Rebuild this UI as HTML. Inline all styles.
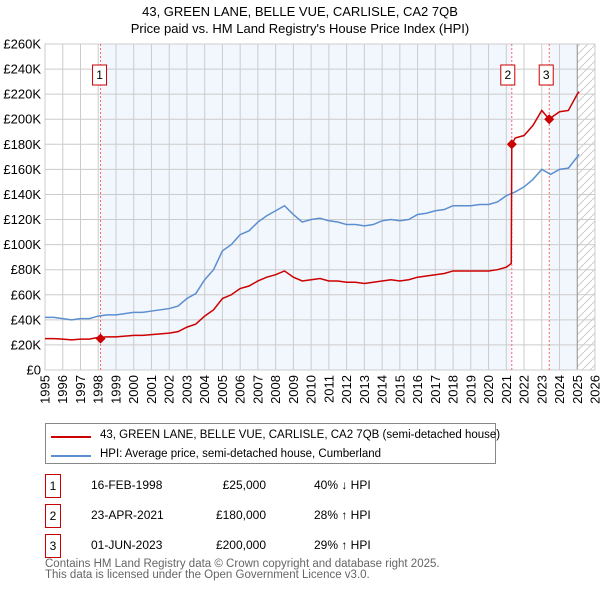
<!DOCTYPE html>
<html><head><meta charset="utf-8"><style>
body{margin:0;background:#fff;font-family:"Liberation Sans","DejaVu Sans",sans-serif;}
#wrap{position:relative;width:600px;height:590px;overflow:hidden;}
.t{position:absolute;font-size:12px;color:#000;white-space:nowrap;}
.box{position:absolute;border:1px solid #c00;width:14px;height:22px;text-align:center;line-height:22px;font-size:12px;}
</style></head><body><div id="wrap">
<div class="t" style="left:0;width:600px;text-align:center;top:4px;font-size:13px">43, GREEN LANE, BELLE VUE, CARLISLE, CA2 7QB</div>
<div class="t" style="left:0;width:600px;text-align:center;top:21px;font-size:13px">Price paid vs. HM Land Registry's House Price Index (HPI)</div>
<svg id="svg" width="600" height="420" style="position:absolute;left:0;top:0"></svg>
<div style="position:absolute;left:45px;top:423px;width:449px;height:39px;border:1px solid #888;"></div>
<div style="position:absolute;left:51px;top:436px;width:40px;height:2px;background:#c00"></div>
<div class="t" style="left:100px;top:429px;font-size:11.5px">43, GREEN LANE, BELLE VUE, CARLISLE, CA2 7QB (semi-detached house)</div>
<div style="position:absolute;left:51px;top:455px;width:40px;height:2px;background:#5b8fd0"></div>
<div class="t" style="left:100px;top:448px;font-size:11.5px">HPI: Average price, semi-detached house, Cumberland</div>
<div class="box" style="left:45px;top:474px">1</div>
<div class="t" style="left:91px;top:478px">16-FEB-1998</div>
<div class="t" style="left:196px;width:70px;text-align:right;top:478px">£25,000</div>
<div class="t" style="left:314px;top:478px">40% ↓ HPI</div>
<div class="box" style="left:45px;top:504px">2</div>
<div class="t" style="left:91px;top:508px">23-APR-2021</div>
<div class="t" style="left:196px;width:70px;text-align:right;top:508px">£180,000</div>
<div class="t" style="left:314px;top:508px">28% ↑ HPI</div>
<div class="box" style="left:45px;top:534px">3</div>
<div class="t" style="left:91px;top:538px">01-JUN-2023</div>
<div class="t" style="left:196px;width:70px;text-align:right;top:538px">£200,000</div>
<div class="t" style="left:314px;top:538px">29% ↑ HPI</div>
<div class="t" style="left:45px;top:559px;color:#666;font-size:11.5px;line-height:11px">Contains HM Land Registry data © Crown copyright and database right 2025.<br>This data is licensed under the Open Government Licence v3.0.</div>
</div>
<script>
const years=[1995,1995.5,1996,1996.5,1997,1997.5,1998,1998.5,1999,1999.5,2000,2000.5,2001,2001.5,2002,2002.5,2003,2003.5,2004,2004.5,2005,2005.5,2006,2006.5,2007,2007.5,2008,2008.5,2009,2009.5,2010,2010.5,2011,2011.5,2012,2012.5,2013,2013.5,2014,2014.5,2015,2015.5,2016,2016.5,2017,2017.5,2018,2018.5,2019,2019.5,2020,2020.5,2021,2021.5,2022,2022.5,2023,2023.5,2024,2024.5,2025,2025.1];
const hpiValues=[42,42,41,40,41,41,43,44,44,45,46,46,47,48,49,51,57,61,72,80,95,100,108,111,118,123,127,131,124,118,120,121,119,118,116,116,115,116,119,120,119,120,124,125,127,128,131,131,131,132,132,134,139,142,146,152,160,156,160,161,170,172];
const redYears=[1995,1995.5,1996,1996.5,1997,1997.5,1998,1998.5,1999,1999.5,2000,2000.5,2001,2001.5,2002,2002.5,2003,2003.5,2004,2004.5,2005,2005.5,2006,2006.5,2007,2007.5,2008,2008.5,2009,2009.5,2010,2010.5,2011,2011.5,2012,2012.5,2013,2013.5,2014,2014.5,2015,2015.5,2016,2016.5,2017,2017.5,2018,2018.5,2019,2019.5,2020,2020.5,2021,2021.28,2021.31,2021.5,2022,2022.5,2023,2023.42,2023.5,2024,2024.5,2025,2025.1];
const redValues=[25,25,24.6,24,24.6,24.6,26,26.4,26.4,27,27.6,27.6,28.2,28.8,29.4,30.6,34.2,36.6,43,48,57,60,65,67,71,74,76,79,74,71,72,73,71,71,70,70,69,70,71,72,71,72,74,75,76,77,79,79,79,79,79,80,82,85,180,185,187,195,207,200,201,206,207,220,222];
const saleYears=[1998.13,2021.31,2023.42];
const salePrices=[25,180,200];
const saleLabels=["1","2","3"];
const yTicks=[0,20,40,60,80,100,120,140,160,180,200,220,240,260];
const xTicks=[1995,1996,1997,1998,1999,2000,2001,2002,2003,2004,2005,2006,2007,2008,2009,2010,2011,2012,2013,2014,2015,2016,2017,2018,2019,2020,2021,2022,2023,2024,2025,2026];
const L=45,R=595,T=44,B=370;
const xS=y=>L+(y-1995)/(2026-1995)*(R-L);
const yS=v=>B-v/260*(B-T);
const svg=document.getElementById('svg');const NS='http://www.w3.org/2000/svg';
function mk(tag,at){const e=document.createElementNS(NS,tag);for(const k in at)e.setAttribute(k,at[k]);svg.appendChild(e);return e;}
let e;
e=mk('rect',{x:xS(saleYears[0]),y:T,width:xS(saleYears[1])-xS(saleYears[0]),height:B-T,fill:'#f2f6fd'});


e=mk('rect',{x:xS(saleYears[2]),y:T,width:xS(2025)-xS(saleYears[2]),height:B-T,fill:'#f2f6fd'});


const defs=mk('defs',{});defs.innerHTML='<pattern id="h" width="8" height="8" patternUnits="userSpaceOnUse"><path d="M0 8L8 0" stroke="#ccc" stroke-width="1"/></pattern>';
e=mk('rect',{x:xS(2025),y:T,width:R-xS(2025),height:B-T,fill:'url(#h)'});


yTicks.forEach(v=>{e=mk('line',{x1:L,x2:R,y1:yS(v),y2:yS(v),stroke:'#ccc'});


e=mk('text',{x:L-4,y:yS(v)+4.5,'text-anchor':'end','font-size':13,'font-family':'Liberation Sans, sans-serif'});e.textContent=v===0?'£0':'£'+v+'K';

});
xTicks.forEach(y=>{e=mk('line',{x1:xS(y),x2:xS(y),y1:T,y2:B,stroke:'#ccc'});


e=mk('text',{transform:'translate('+(xS(y)+4.5)+','+(B+5)+') rotate(-90)','text-anchor':'end','font-size':13,'font-family':'Liberation Sans, sans-serif'});e.textContent=y;

});
e=mk('line',{x1:xS(2025),x2:xS(2025),y1:T,y2:B,stroke:'#999'});


e=mk('rect',{x:L,y:T,width:R-L,height:B-T,fill:'none',stroke:'#ccc'});


saleYears.forEach((y,i)=>{e=mk('line',{x1:xS(y),x2:xS(y),y1:T,y2:B,stroke:'#f66','stroke-dasharray':'2,2'});

});
e=mk('polyline',{points:years.map((y,i)=>xS(y)+','+yS(hpiValues[i])).join(' '),fill:'none',stroke:'#5b8fd0','stroke-width':1.5});


e=mk('polyline',{points:redYears.map((y,i)=>xS(y)+','+yS(redValues[i])).join(' '),fill:'none',stroke:'#c00','stroke-width':1.5});


saleYears.forEach((y,i)=>{const cx=xS(y),cy=yS(salePrices[i]);
e=mk('path',{d:`M${cx} ${cy-5}L${cx+5} ${cy}L${cx} ${cy+5}L${cx-5} ${cy}Z`,fill:'#c00'});


e=mk('rect',{x:cx-7-(i===0?1:i===1?4:3),y:65,width:14,height:20,fill:'#fff',stroke:'#c00'});


e=mk('text',{x:cx-(i===0?1:i===1?4:3),y:79,'text-anchor':'middle','font-size':12,'font-family':'Liberation Sans, sans-serif'});e.textContent=saleLabels[i];

});
</script></body></html>
